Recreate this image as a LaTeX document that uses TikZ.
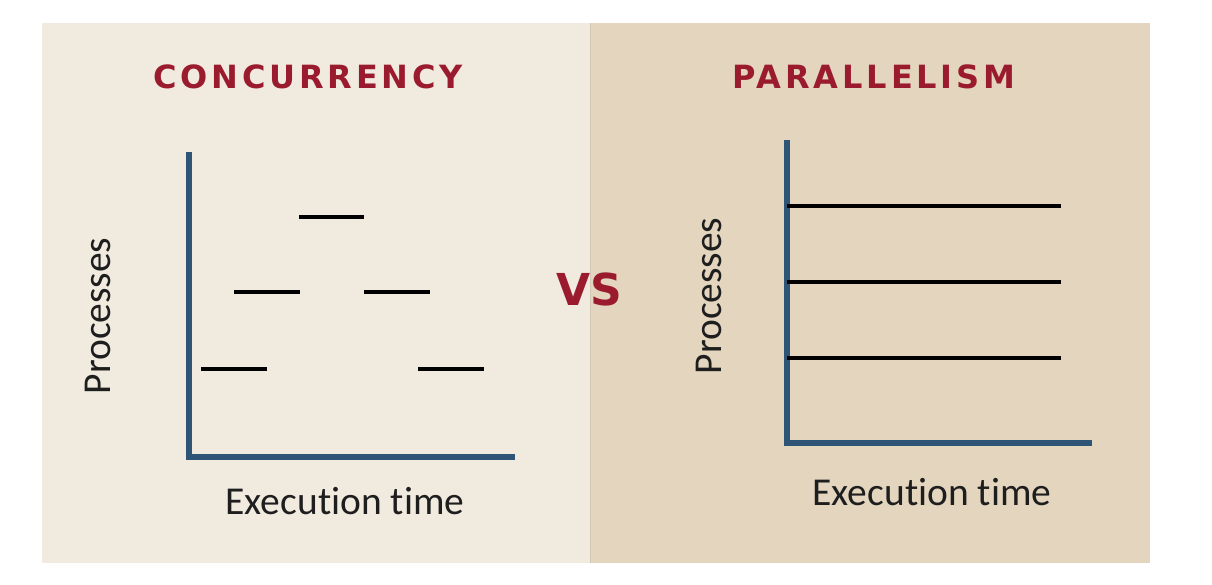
\documentclass[tikz,border=0pt]{standalone}
\usepackage{fontspec}
\setmainfont{Carlito}[Ligatures=NoCommon]
\newfontfamily\headfont[LetterSpace=12]{DejaVu Sans Bold}
\newfontfamily\vsfont{DejaVu Sans Bold}
\definecolor{leftbg}{HTML}{F0EADF}
\definecolor{rightbg}{HTML}{E3D5BE}
\definecolor{divline}{HTML}{D3C7B5}
\definecolor{headred}{HTML}{9B1B2E}
\definecolor{axisblue}{HTML}{2E5576}
\definecolor{labelgray}{HTML}{1E1E1E}
\tikzset{
  heading/.style={text=headred, font=\headfont\fontsize{32}{32}\selectfont, inner sep=0pt},
  axislabel/.style={text=labelgray, font=\fontsize{39.5}{40}\selectfont, inner sep=0pt, anchor=base},
  axisline/.style={draw=axisblue, line width=5.5pt, line join=miter},
  task/.style={draw=black, line width=4pt}
}
\begin{document}
\begin{tikzpicture}[x=1pt, y=-1pt]
  \useasboundingbox (0,0) rectangle (1212,584);
  % the two panels
  \fill[leftbg] (42,23) rectangle (590,563);
  \fill[rightbg] (590,23) rectangle (1150,563);
  \draw[divline, line width=1pt] (590,23) -- (590,563);

  % headings
  \node[heading] (conc) at (308,77) {CONCURRENCY};
  \node[heading] (para) at (874,77) {PARALLELISM};
  \node[text=headred, font=\vsfont\fontsize{44}{44}\selectfont, inner sep=0pt] (vs) at (589,289) {VS};

  % concurrency axes
  \coordinate (ctop) at (189,152);
  \coordinate (corig) at (189,457);
  \coordinate (cend) at (515,457);
  \draw[axisline] (ctop) -- (corig) -- (cend);
  \foreach \xa/\xb/\y in {299/364/217, 234/300/292, 364/430/292, 201/267/369, 418/484/369}
    \draw[task] (\xa,\y) -- (\xb,\y);
  \node[axislabel, rotate=90] (cproc) at (110,316) {Processes};
  \node[axislabel] (cexec) at (345,514) {Execution time};

  % parallelism axes
  \coordinate (ptop) at (787,140);
  \coordinate (porig) at (787,443);
  \coordinate (pend) at (1092,443);
  \draw[axisline] (ptop) -- (porig) -- (pend);
  \foreach \y in {206,282,358}
    \draw[task] (porig |- 0,\y) -- (1061,\y);
  \node[axislabel, rotate=90] (pproc) at (721,296) {Processes};
  \node[axislabel] (pexec) at (932,505) {Execution time};
\end{tikzpicture}
\end{document}
